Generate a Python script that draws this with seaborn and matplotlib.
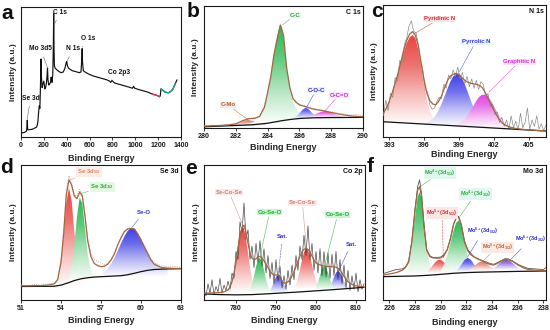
import numpy as np
import matplotlib
matplotlib.use('Agg')
import matplotlib.pyplot as plt
import seaborn as sns
from matplotlib.colors import LinearSegmentedColormap, to_rgb

sns.set_theme(style='ticks')
plt.rcParams['font.family'] = ['Liberation Sans', 'DejaVu Sans']
plt.rcParams['font.weight'] = 'bold'
plt.rcParams['mathtext.fontset'] = 'custom'
plt.rcParams['mathtext.rm'] = 'Liberation Sans:bold'
plt.rcParams['mathtext.it'] = 'Liberation Sans:italic:bold'
plt.rcParams['mathtext.bf'] = 'Liberation Sans:bold'

# ---------------- panel a : survey ----------------
a_x = [0, 30, 48, 52, 55, 58, 62, 100, 135, 142,
       148, 155, 160, 165, 170, 175, 179, 185, 192, 200,
       208, 215, 222, 228, 232, 236, 243, 250, 258, 264,
       268, 272, 278, 283, 286, 289, 292, 298, 310, 330,
       350, 370, 385, 395, 400, 406, 415, 430, 450, 470,
       490, 510, 525, 532, 535, 538, 545, 560, 590, 630,
       670, 710, 750, 775, 785, 795, 820, 860, 900, 940,
       975, 985, 995, 1030, 1070, 1110, 1150, 1190, 1212, 1218,
       1225, 1240, 1260, 1290, 1310, 1330, 1350, 1365]
a_y = [3, 3.5, 4.5, 8, 13, 6, 5.5, 6, 7.5, 9,
       12, 20, 24, 22, 38, 60, 46, 38, 41, 43,
       37, 38, 41, 47, 53, 44, 40, 40.5, 42, 46,
       43, 42, 48, 70, 95, 68, 55, 53, 52, 50.5,
       49.5, 50, 53, 57, 58, 55, 53, 52, 51, 50.5,
       50, 49.5, 50, 60, 68, 58, 51, 50, 48.5, 47,
       46, 45, 44, 43, 42, 43.5, 41.5, 40.5, 39.5, 38.5,
       37.5, 39, 37.5, 36.5, 35.5, 34.5, 33, 32, 31, 31.5,
       37, 36, 34.5, 34, 35, 37, 41, 44]
a_ticks = [0, 200, 400, 600, 800, 1000, 1200, 1400]

# ---------------- panel b : C 1s ----------------
b_x = [280.0, 280.5, 281.0, 281.5, 282.0, 282.4, 282.8, 283.2, 283.5, 283.8,
       284.0, 284.2, 284.4, 284.6, 284.8, 285.0, 285.2, 285.4, 285.6, 285.8,
       286.0, 286.2, 286.4, 286.6, 286.8, 287.0, 287.3, 287.6, 287.9, 288.2,
       288.5, 288.8, 289.2, 289.6, 290.0]
b_env = [1.5, 1.8, 2.1, 2.5, 3.4, 5.8, 7.6, 7.9, 9.5, 17,
         29, 42, 60, 73, 84.4, 76, 49, 33, 24, 21,
         19, 18.2, 17.5, 16.5, 15.8, 15.2, 14.6, 13.8, 13.0, 12.2,
         11.4, 10.7, 10.0, 9.5, 9.2]
b_raw = [1.8, 2.3, 1.9, 2.8, 3.2, 6.0, 8.0, 8.3, 9.9, 17.5,
         29.5, 42.5, 60.5, 73.5, 85, 76.5, 49.5, 33.5, 24.5, 21.5,
         19.5, 18.5, 17.8, 16.8, 16.2, 15.6, 15.0, 14.2, 13.2, 13.0,
         11.2, 11.8, 10.4, 11.0, 9.8]
b_bg_x = [280, 283, 284, 285, 285.5, 286, 286.5, 287, 288, 290]
b_bg_y = [1.0, 2.6, 3.9, 6.2, 7.1, 7.8, 8.15, 8.4, 8.55, 8.7]
b_cmo_x = [281.6, 282.0, 282.4, 282.75, 283.1, 283.5, 283.9]
b_cmo_y = [2.0, 2.9, 5.1, 6.6, 5.7, 4.2, 3.8]
b_cc_x = [282.6, 283.0, 283.4, 283.7, 284.0, 284.2, 284.4, 284.6, 284.7, 284.8,
          284.9, 285.0, 285.2, 285.4, 285.6, 285.8, 286.0, 286.3, 286.6, 287.0,
          287.5, 288.0, 288.8]
b_cc_y = [3.2, 4.3, 6.5, 12.4, 27.9, 41.3, 59.8, 73.3, 80.0, 84.4,
          82.5, 74.2, 47.6, 32, 21.3, 15.6, 12.8, 10.5, 9.7, 9.4,
          9.2, 9.05, 8.9]
b_coc_x = [285.4, 285.7, 286.0, 286.2, 286.4, 286.6, 286.8, 287.1, 287.4]
b_coc_y = [7.2, 8.5, 11.9, 15.0, 16.6, 15.2, 12.3, 9.4, 8.5]
b_oco_x = [286.2, 286.6, 287.0, 287.3, 287.6, 287.9, 288.2, 288.5, 288.9, 289.3]
b_oco_y = [8.2, 9.2, 11.3, 13.0, 13.9, 13.1, 11.5, 10.0, 9.0, 8.8]
b_ticks = [280, 282, 284, 286, 288, 290]

# ---------------- panel c : N 1s ----------------
c_x = [392.5, 392.75, 393.0, 393.25, 393.5, 393.75, 394.0, 394.25, 394.5, 394.75,
       395.0, 395.25, 395.5, 395.75, 396.0, 396.25, 396.5, 396.75, 397.0, 397.25,
       397.5, 397.75, 398.0, 398.25, 398.5, 398.75, 399.0, 399.25, 399.5, 399.75,
       400.0, 400.25, 400.5, 400.75, 401.0, 401.25, 401.5, 401.75, 402.0, 402.25,
       402.5, 402.75, 403.0, 403.25, 403.5, 404.0, 404.5, 405.0, 405.5, 406.0,
       406.5]
c_env = [18, 22, 27, 33.5, 40.5, 48, 57, 66, 73, 78,
         79.8, 77, 69, 56, 43, 33, 27.5, 25, 24.3, 27,
         31, 37, 42.5, 46, 47.5, 48.2, 47.5, 45, 43, 41.5,
         40.7, 40.3, 39.9, 39.2, 37.5, 34, 29.5, 25, 20.5, 16.5,
         13, 10.5, 9, 8, 7.2, 6.3, 5.8, 5.4, 5.1, 4.8,
         4.6]
c_raw_x = [392.5, 392.7, 392.9, 393.1, 393.3, 393.5, 393.7, 393.9, 394.1, 394.3,
           394.5, 394.7, 394.9, 395.1, 395.3, 395.5, 395.7, 395.9, 396.1, 396.3,
           396.5, 396.7, 396.9, 397.1, 397.3, 397.5, 397.7, 397.9, 398.1, 398.3,
           398.5, 398.7, 398.9, 399.1, 399.3, 399.5, 399.7, 399.9, 400.1, 400.3,
           400.5, 400.7, 400.9, 401.1, 401.3, 401.5, 401.7, 401.9, 402.1, 402.3,
           402.5, 402.7, 402.9, 403.1, 403.3, 403.5, 403.7, 403.9, 404.1, 404.3,
           404.5, 404.7, 404.9, 405.1, 405.3, 405.5, 405.7, 405.9, 406.1, 406.3,
           406.5]
c_raw_y = [16, 28, 20, 33, 30, 45, 42, 58, 56, 70,
           75, 84, 88, 80, 79, 70, 57, 50, 36, 34,
           24, 21, 22, 27, 30, 29, 40, 37, 47, 44,
           51, 46, 53, 44, 49, 40, 46, 38, 44, 37,
           43, 36, 42, 40, 30, 33, 23, 25, 17, 19,
           11, 15, 8, 13, 6, 16, 7, 12, 5, 18,
           7, 11, 22, 6, 13, 8, 16, 6, 10, 5,
           9]
c_bg_x = [392.4, 406.6]
c_bg_y = [11.6, 4.5]
c_pyd_x = [392.5, 392.75, 393.0, 393.25, 393.5, 393.75, 394.0, 394.25, 394.5, 394.75,
           395.0, 395.25, 395.5, 395.75, 396.0, 396.25, 396.5, 396.75, 397.0, 397.25,
           397.5]
c_pyd_y = [18.6, 22.2, 26.9, 33.0, 40.2, 48.3, 56.5, 64.3, 70.9, 75.4,
           77.3, 74.8, 66.1, 53.4, 39.8, 28.3, 19.9, 14.7, 11.6, 10.1,
           9.4]
c_pyr_x = [396.0, 396.25, 396.5, 396.75, 397.0, 397.25, 397.5, 397.75, 398.0, 398.25,
           398.5, 398.75, 399.0, 399.25, 399.5, 399.75, 400.0, 400.25, 400.5, 400.75,
           401.0, 401.25, 401.5, 401.75]
c_pyr_y = [10.4, 11.0, 12.1, 13.9, 16.4, 20.2, 25.0, 30.6, 36.3, 41.7,
           45.8, 47.8, 47.4, 44.7, 40.1, 34.3, 28.2, 22.5, 17.7, 14.0,
           11.2, 9.4, 8.3, 7.6]
c_gra_x = [398.5, 398.75, 399.0, 399.25, 399.5, 399.75, 400.0, 400.25, 400.5, 400.75,
           401.0, 401.25, 401.5, 401.75, 402.0, 402.25, 402.5, 402.75, 403.0, 403.25,
           403.5, 404.0]
c_gra_y = [9.0, 9.5, 10.3, 11.6, 13.6, 16.4, 19.8, 23.7, 27.4, 30.4,
           32.0, 32.0, 30.5, 27.4, 23.6, 19.5, 15.7, 12.6, 10.1, 8.3,
           7.3, 6.1]
c_ticks = [393, 396, 399, 402, 405]

# ---------------- panel d : Se 3d ----------------
d_x = [51.0, 51.5, 52.0, 52.5, 53.0, 53.5, 53.75, 54.0, 54.2, 54.4,
       54.6, 54.8, 55.0, 55.2, 55.4, 55.6, 55.8, 56.0, 56.25, 56.5,
       56.75, 57.0, 57.25, 57.5, 57.75, 58.0, 58.25, 58.5, 58.75, 59.0,
       59.25, 59.5, 59.75, 60.0, 60.25, 60.5, 60.75, 61.0, 61.5, 62.0,
       62.5, 63.0]
d_env = [10.5, 10.5, 10.6, 10.7, 11, 12, 15, 28, 49, 78,
         89, 85, 77, 75, 80, 77, 62, 44, 32, 27,
         25.5, 24.7, 25, 26.5, 29.6, 34, 40.7, 46, 50.6, 52.5,
         53, 52.5, 49, 44.5, 39.5, 34.5, 29.6, 26.5, 24.2, 23.6,
         23.4, 23.3]
d_raw = [11.2, 10.8, 11.6, 11.0, 11.8, 12.6, 15.5, 29, 51, 82,
         92, 86, 78, 77, 82, 78, 63, 46, 34, 30,
         28.5, 27.5, 26, 27, 30, 34.5, 41, 46.5, 51, 53,
         53.5, 53, 49.5, 45, 40, 35, 30.5, 27.5, 25.5, 24.6,
         24.8, 24.2]
d_bg_x = [51, 53.5, 54.0, 54.5, 55.0, 55.5, 56.0, 56.5, 57.5, 58.5,
          59.0, 59.5, 60.0, 60.5, 61.0, 62.0, 63.0]
d_bg_y = [10, 10.2, 11, 12.6, 14.4, 15.7, 16.5, 17, 17.5, 18,
          18.7, 19.8, 21, 22, 22.6, 23, 23.2]
d_52_x = [53.5, 53.75, 54.0, 54.2, 54.4, 54.6, 54.8, 55.0, 55.2, 55.4, 55.7]
d_52_y = [10.7, 14.1, 27, 48.2, 71.9, 83, 73.3, 51, 31, 20.6, 16.7]
d_32_x = [54.4, 54.6, 54.8, 55.0, 55.2, 55.4, 55.6, 55.8, 56.0, 56.25, 56.5]
d_32_y = [13, 16.2, 24.6, 41.1, 62, 75.9, 71.5, 53.2, 34.3, 21.3, 17.7]
d_seo_x = [56.5, 57.0, 57.25, 57.5, 57.75, 58.0, 58.25, 58.5, 58.75, 59.0,
           59.25, 59.5, 59.75, 60.0, 60.25, 60.5, 60.75, 61.0, 61.5, 62.0]
d_seo_y = [17.4, 19.1, 20.7, 23.2, 26.6, 31, 36.3, 41.9, 47.1, 51.1,
           53.2, 53, 49.5, 45, 39.5, 34.5, 29.8, 26.6, 24.1, 23.3]
d_ticks = [51, 54, 57, 60, 63]

# ---------------- panel e : Co 2p ----------------
e_x = [772, 774, 776, 777, 778, 778.5, 779, 779.5, 780, 780.5,
       781, 781.5, 782, 782.5, 783, 783.5, 784, 784.5, 785, 785.5,
       786, 786.5, 787, 787.5, 788, 788.5, 789, 789.5, 790, 790.5,
       791, 791.5, 792, 792.5, 793, 793.5, 794, 794.5, 795, 795.5,
       796, 796.5, 797, 797.5, 798, 798.5, 799, 799.5, 800, 800.5,
       801, 801.5, 802, 802.5, 803, 803.5, 804, 804.5, 805, 805.5,
       806, 806.5, 807, 808, 809, 810, 811, 812]
e_env = [5, 5.2, 5.5, 6, 7.5, 9.5, 13.5, 20, 28, 38,
         47, 53.5, 55.5, 50, 42, 35, 31, 29.8, 30.5, 32,
         32.3, 31, 29, 26.5, 24, 21.5, 19.5, 18.5, 18.5, 18.5,
         17, 14, 12.5, 12.5, 13.5, 15, 18, 21, 25, 29,
         32.5, 35.5, 37.5, 38.3, 37.5, 35.8, 32.5, 29.5, 27.5, 26.5,
         26, 25.5, 25.2, 25, 24.8, 24.7, 24.7, 24.7, 24.3, 23.5,
         22.2, 20, 17.5, 13.5, 11.5, 10.5, 10, 9.9]
e_raw_x = [772.0, 772.5, 773.0, 773.5, 774.0, 774.5, 775.0, 775.5, 776.0, 776.5,
           777.0, 777.5, 778.0, 778.5, 779.0, 779.5, 780.0, 780.5, 781.0, 781.5,
           782.0, 782.5, 783.0, 783.5, 784.0, 784.5, 785.0, 785.5, 786.0, 786.5,
           787.0, 787.5, 788.0, 788.5, 789.0, 789.5, 790.0, 790.5, 791.0, 791.5,
           792.0, 792.5, 793.0, 793.5, 794.0, 794.5, 795.0, 795.5, 796.0, 796.5,
           797.0, 797.5, 798.0, 798.5, 799.0, 799.5, 800.0, 800.5, 801.0, 801.5,
           802.0, 802.5, 803.0, 803.5, 804.0, 804.5, 805.0, 805.5, 806.0, 806.5,
           807.0, 807.5, 808.0, 808.5, 809.0, 809.5, 810.0, 810.5, 811.0, 811.5,
           812.0]
e_raw_y = [8, 3, 12, 5, 15, 4, 10, 6, 16, 5,
           11, 7, 14, 8, 20, 16, 36, 30, 58, 50,
           72, 45, 52, 30, 40, 24, 42, 28, 44, 25,
           38, 20, 33, 16, 28, 12, 30, 14, 25, 9,
           18, 8, 22, 11, 26, 15, 33, 22, 40, 30,
           48, 33, 55, 30, 42, 22, 36, 20, 38, 18,
           36, 17, 35, 16, 34, 18, 36, 15, 30, 12,
           26, 9, 22, 7, 18, 8, 20, 6, 15, 8,
           12]
e_bg_x = [772, 776, 780, 784, 788, 792, 796, 800, 804, 808, 812]
e_bg_y = [4.5, 4.0, 3.8, 4.0, 4.6, 5.3, 6.0, 6.8, 7.6, 8.5, 9.4]
e_r1_x = [778.0, 778.5, 779.0, 779.5, 780.0, 780.5, 781.0, 781.5, 782.0, 782.5,
          783.0, 783.5, 784.0, 784.5, 785.0, 785.5]
e_r1_y = [5.8, 8.3, 13.0, 20.4, 30.3, 41.2, 50.3, 54.7, 52.9, 45.4,
          34.9, 24.2, 15.7, 10.1, 6.8, 5.1]
e_g1_x = [783.0, 783.5, 784.0, 784.5, 785.0, 785.5, 786.0, 786.5, 787.0, 787.5,
          788.0, 788.5, 789.0]
e_g1_y = [5.4, 7.5, 11.7, 17.8, 24.5, 29.7, 31.2, 28.2, 22.1, 15.6,
          10.4, 7.2, 5.8]
e_s1_x = [788.0, 788.5, 789.0, 789.5, 790.0, 790.5, 791.0, 791.5, 792.0, 792.5, 793.0]
e_s1_y = [5.5, 7.0, 9.7, 13.4, 17.0, 19.0, 18.2, 15.2, 11.5, 8.6, 6.8]
e_r2_x = [794.5, 795.0, 795.5, 796.0, 796.5, 797.0, 797.5, 798.0, 798.5, 799.0,
          799.5, 800.0, 800.5, 801.0]
e_r2_y = [8.5, 11.7, 16.3, 22.6, 29.6, 35.4, 38.2, 37.1, 32.5, 26.0,
          19.3, 14.2, 10.6, 8.7]
e_g2_x = [799.5, 800.0, 800.5, 801.0, 801.5, 802.0, 802.5, 803.0, 803.5, 804.0,
          804.5, 805.0]
e_g2_y = [7.7, 9.7, 13.2, 18.1, 22.9, 25.1, 24.0, 20.3, 15.4, 11.6,
          9.5, 8.4]
e_s2_x = [803.0, 803.5, 804.0, 804.5, 805.0, 805.5, 806.0, 806.5, 807.0, 807.5, 808.0]
e_s2_y = [8.4, 10.2, 12.9, 16.7, 20.1, 21.5, 20.3, 17.1, 13.6, 10.9, 9.5]
e_ticks = [780, 790, 800, 810]

# ---------------- panel f : Mo 3d ----------------
f_x = [225.5, 226.0, 226.5, 227.0, 227.25, 227.5, 227.75, 228.0, 228.2, 228.35,
       228.5, 228.7, 228.9, 229.15, 229.4, 229.7, 230.0, 230.25, 230.5, 230.75,
       231.0, 231.2, 231.4, 231.6, 231.85, 232.1, 232.35, 232.6, 232.9, 233.2,
       233.5, 233.8, 234.1, 234.4, 234.7, 235.0, 235.3, 235.6, 236.0, 236.4,
       236.8, 237.4, 238.0, 238.2]
f_env = [18.5, 19.3, 20.2, 22, 24, 28, 43, 66.7, 81.5, 83.9,
         77, 54.3, 37, 32.1, 31.2, 30.9, 31.2, 33, 37, 45,
         56, 60.5, 61.2, 55.5, 43, 36.5, 33.5, 31.8, 30.2, 29.3,
         27.6, 26.5, 25.9, 27, 28.8, 29.9, 29.8, 28.6, 26, 24,
         22.6, 22, 21.7, 21.6]
f_raw = [19.5, 21, 22.5, 23, 24.5, 29, 44, 68, 84, 89,
         79, 55, 37.5, 32.8, 31.5, 31.6, 31.8, 33.6, 37.4, 45.5,
         56.3, 61, 62, 56, 43.8, 37.5, 34.5, 32, 30.7, 29,
         28.4, 27.2, 26.4, 27.6, 29.2, 30.6, 30.4, 28.9, 26.5, 24.8,
         23.4, 23, 22.5, 24]
f_bg_x = [225.5, 227, 228, 229, 230, 231, 232, 233, 234, 236, 238.2]
f_bg_y = [17.3, 17.6, 17.8, 18.3, 19.0, 19.8, 20.3, 20.6, 20.8, 21.2, 21.5]
f_g1_x = [227.0, 227.25, 227.5, 227.75, 228.0, 228.2, 228.35, 228.5, 228.75, 229.0, 229.25, 229.5]
f_g1_y = [18.1, 19.7, 25.8, 40.1, 61.6, 76.1, 80.0, 75.3, 53.8, 32.5, 22.0, 18.8]
f_r1_x = [228.75, 229.0, 229.25, 229.5, 229.75, 230.0, 230.25, 230.5, 230.75, 231.0, 231.25]
f_r1_y = [19.7, 21.5, 24.2, 27.2, 29.5, 29.8, 28.1, 25.3, 22.6, 20.9, 20.0]
f_g2_x = [230.0, 230.25, 230.5, 230.75, 231.0, 231.2, 231.4, 231.6, 231.8, 232.0, 232.25, 232.5, 232.75]
f_g2_y = [21.6, 26.1, 32.8, 41.9, 51.4, 57.0, 59.0, 55.4, 46.5, 36.3, 27.0, 22.4, 20.9]
f_b1_x = [231.1, 231.35, 231.6, 231.85, 232.1, 232.35, 232.6, 232.85, 233.1]
f_b1_y = [21.1, 22.9, 26.1, 29.6, 31.2, 29.7, 26.3, 23.2, 21.5]
f_r2_x = [232.1, 232.4, 232.7, 232.95, 233.2, 233.45, 233.7, 234.0, 234.3]
f_r2_y = [21.7, 23.4, 25.9, 27.8, 28.6, 27.8, 26.0, 23.6, 21.9]
f_b2_x = [233.9, 234.2, 234.5, 234.8, 235.1, 235.4, 235.7, 236.0, 236.3]
f_b2_y = [22.2, 23.9, 26.5, 28.9, 30.0, 28.9, 26.5, 23.9, 22.2]
f_ticks = [226, 228, 230, 232, 234, 236, 238]

# ---------------- colours ----------------
RED = '#e63a36'
GREEN = '#1fb447'
BLUE = '#3434e4'
MAG = '#e03ae0'
CMO = '#d8705c'
ENV = '#a3673f'

W, H = 550, 330
fig = plt.figure(figsize=(5.5, 3.3), dpi=100)
fig.patch.set_facecolor('white')


def add_ax(l, r, t, b):
    return fig.add_axes([l / W, (H - b) / H, (r - l) / W, (b - t) / H])


def grad_fill(ax, xs, ys, color, z=1, alpha=0.95):
    xs = np.asarray(xs, float)
    ys = np.asarray(ys, float)
    poly = ax.fill_between(xs, 0, ys, facecolor='none', edgecolor='none')
    path = poly.get_paths()[0]
    c = np.array(to_rgb(color))
    cmap = LinearSegmentedColormap.from_list(
        'g', [(1, 1, 1), tuple(0.35 * c + 0.65), tuple(0.75 * c + 0.25), tuple(c)])
    grad = np.linspace(0, 1, 256).reshape(-1, 1)
    im = ax.imshow(grad, cmap=cmap, aspect='auto', origin='lower',
                   extent=[xs.min(), xs.max(), ys.min(), ys.max()],
                   zorder=z, alpha=alpha, interpolation='bilinear')
    im.set_clip_path(path, transform=ax.transData)


def line(ax, x, y, color, lw, z, ls='-'):
    sns.lineplot(x=np.asarray(x, float), y=np.asarray(y, float), ax=ax, color=color,
                 lw=lw, sort=False, estimator=None, zorder=z, linestyle=ls, legend=False)


def style(ax, xlim, ticks, ylab_x, xlab_y, xlabel='Binding Energy', title=None):
    ax.set_xlim(*xlim)
    ax.set_ylim(0, 100)
    ax.set_xticks(ticks)
    ax.set_xticklabels([str(t) for t in ticks], fontsize=5, fontweight='bold')
    ax.set_yticks([])
    ax.tick_params(axis='x', direction='out', length=2, width=0.6, pad=1.5, colors='#1a1a1a')
    for s in ax.spines.values():
        s.set_visible(True)
        s.set_linewidth(0.8)
        s.set_color('#1a1a1a')
    ax.set_facecolor('white')
    ax.grid(False)
    ax.set_xlabel(xlabel, fontsize=6.5, fontweight='bold')
    ax.set_ylabel('Intensity (a.u.)', fontsize=6, fontweight='bold')
    ax.xaxis.set_label_coords(0.5, xlab_y)
    ax.yaxis.set_label_coords(ylab_x, 0.5)
    if title:
        ax.text(0.985, 0.975, title, transform=ax.transAxes, ha='right', va='top',
                fontsize=5, fontweight='bold', color='#111')


def note(ax, text, xy, xyt, color, bg=None, ls='-', arrow='-', fs=4.3):
    bbox = dict(boxstyle='square,pad=0.12', fc=bg, ec='none') if bg else None
    ax.annotate(text, xy=xy, xytext=xyt, ha='center', va='center', fontsize=fs,
                fontweight='bold', color=color, bbox=bbox, zorder=8,
                arrowprops=dict(arrowstyle=arrow, color=color, lw=0.4, ls=ls,
                                shrinkA=1, shrinkB=0, alpha=0.8))


# ---- a ----
axa = add_ax(21, 181, 7, 137)
line(axa, a_x, a_y, '#111', 0.85, 3)
axa_red = [i for i, v in enumerate(a_x) if 1150 <= v <= 1215]
axa_teal = [i for i, v in enumerate(a_x) if 1225 <= v <= 1350]
line(axa, [a_x[i] for i in axa_red], [a_y[i] for i in axa_red], '#d6405c', 1.0, 4)
line(axa, [a_x[i] for i in axa_teal], [a_y[i] for i in axa_teal], '#1aa38c', 1.0, 4)
style(axa, (0, 1400), a_ticks, -0.027, -0.127)
for txt, xy, xyt in [('Se 3d', (55, 14), (84, 30)), ('Mo 3d5', (232, 53), (173, 68)),
                     ('C 1s', (288, 86), (343, 96)), ('N 1s', (402, 58), (453, 68)),
                     ('O 1s', (537, 69), (586, 76)), ('Co 2p3', (790, 43.5), (859, 50))]:
    axa.annotate(txt, xy=xy, xytext=xyt, ha='center', va='center', fontsize=4.8,
                 fontweight='bold', color='#111', zorder=8,
                 arrowprops=dict(arrowstyle='-', color='#666', lw=0.4, shrinkA=1, shrinkB=0))

# ---- b ----
axb = add_ax(204, 363, 6, 128)
grad_fill(axb, b_cmo_x, b_cmo_y, CMO)
grad_fill(axb, b_cc_x, b_cc_y, GREEN)
grad_fill(axb, b_coc_x, b_coc_y, BLUE, z=2)
grad_fill(axb, b_oco_x, b_oco_y, MAG, z=2)
line(axb, b_x, b_raw, '#b59595', 0.6, 3, ls=':')
line(axb, b_bg_x, b_bg_y, '#111', 0.9, 4)
line(axb, b_x, b_env, ENV, 0.9, 5)
style(axb, (280, 290), b_ticks, -0.031, -0.119, title='C 1s')
note(axb, 'C-C', (284.95, 84.5), (285.7, 92.6), '#3aa53a', '#e8f8e8')
note(axb, 'C-Mo', (282.8, 6.5), (281.5, 18.9), '#a9603a', '#fbe9e4')
note(axb, 'C-O-C', (286.45, 17), (287.05, 31), '#3030cc', '#eeeefc')
note(axb, 'O-C=O', (287.6, 14), (288.5, 27), '#c030c0', '#f9e6f8')

# ---- c ----
axc = add_ax(383, 546, 5, 137)
grad_fill(axc, c_pyd_x, c_pyd_y, RED)
grad_fill(axc, c_pyr_x, c_pyr_y, BLUE, z=2)
grad_fill(axc, c_gra_x, c_gra_y, MAG, z=2)
line(axc, c_raw_x, c_raw_y, '#8c8c8c', 0.5, 3)
line(axc, c_bg_x, c_bg_y, '#111', 0.9, 4)
line(axc, c_x, c_env, ENV, 0.9, 5)
style(axc, (392.46, 406.5), c_ticks, -0.031, -0.102, title='N 1s')
note(axc, 'Pyridinic N', (395.1, 78), (397.3, 89.4), '#c83232', '#fbe3ea')
note(axc, 'Pyrrolic N', (399.0, 49), (400.45, 72), '#3a3ad8', '#e4f6fb')
note(axc, 'Graphitic N', (401.6, 34), (404.2, 57), '#d030d0', '#f9e3f6')

# ---- d ----
axd = add_ax(21, 181, 165, 300)
grad_fill(axd, d_52_x, d_52_y, RED)
grad_fill(axd, d_32_x, d_32_y, GREEN, z=2)
grad_fill(axd, d_seo_x, d_seo_y, BLUE)
line(axd, d_x, d_raw, '#b89090', 0.6, 3, ls=':')
line(axd, d_bg_x, d_bg_y, '#111', 0.9, 4)
line(axd, d_x, d_env, ENV, 0.9, 5)
style(axd, (51, 63), d_ticks, -0.025, -0.122, title='Se 3d')
note(axd, 'Se 3d$_{5/2}$', (54.7, 89), (56.1, 94.8), '#d98b6a', '#fdece6')
note(axd, 'Se 3d$_{3/2}$', (55.55, 79), (57.1, 83.7), '#2fae3a', '#e4f8e4')
note(axd, 'Se-O', (59.35, 54), (60.2, 65), '#3030cc')

# ---- e ----
axe = add_ax(204, 365, 165, 300)
grad_fill(axe, e_r1_x, e_r1_y, RED)
grad_fill(axe, e_g1_x, e_g1_y, GREEN, z=2)
grad_fill(axe, e_s1_x, e_s1_y, BLUE)
grad_fill(axe, e_r2_x, e_r2_y, RED)
grad_fill(axe, e_g2_x, e_g2_y, GREEN, z=2)
grad_fill(axe, e_s2_x, e_s2_y, BLUE)
line(axe, e_raw_x, e_raw_y, '#3a3a3a', 0.45, 3)
line(axe, e_bg_x, e_bg_y, '#111', 0.9, 4)
line(axe, e_x, e_env, ENV, 0.9, 5)
style(axe, (772, 812.25), e_ticks, -0.027, -0.122, title='Co 2p')
note(axe, 'Se-Co-Se', (781.6, 56), (778.3, 79.8), '#c8826e', '#fde8ec')
note(axe, 'Co-Se-O', (786.0, 32), (788.4, 65), '#22a83a', '#c9f5cf')
note(axe, 'Sat.', (790.6, 20), (791.6, 46.7), '#3030d0', ls='--')
note(axe, 'Se-Co-Se', (797.6, 38.5), (796.6, 72), '#c8826e', '#fde8ec')
note(axe, 'Co-Se-O', (802.2, 26), (805.4, 63), '#22a83a', '#c9f5cf')
note(axe, 'Sat.', (805.6, 21), (808.75, 41), '#3030d0')

# ---- f ----
axf = add_ax(383, 546, 165, 300)
grad_fill(axf, f_g1_x, f_g1_y, GREEN)
grad_fill(axf, f_r1_x, f_r1_y, RED)
grad_fill(axf, f_g2_x, f_g2_y, GREEN)
grad_fill(axf, f_b1_x, f_b1_y, BLUE, z=2)
grad_fill(axf, f_r2_x, f_r2_y, CMO, z=2)
grad_fill(axf, f_b2_x, f_b2_y, '#6a3ae0', z=2)
line(axf, f_x, f_raw, '#555555', 0.6, 3)
line(axf, f_bg_x, f_bg_y, '#111', 0.9, 4)
line(axf, f_x, f_env, ENV, 0.9, 5)
style(axf, (225.5, 238.2), f_ticks, -0.025, -0.13, xlabel='Binding energy', title='Mo 3d')
note(axf, 'Mo$^{4+}$(3d$_{5/2}$)', (228.4, 84), (229.95, 94), '#2fae3a', '#e0f7ee', fs=4)
note(axf, 'Mo$^{4+}$(3d$_{3/2}$)', (231.5, 62), (232.7, 78.5), '#2fae3a', '#e0f7ee', fs=4)
note(axf, 'Mo$^{5+}$(3d$_{5/2}$)', (230.2, 31), (230.1, 64.5), '#d03030', '#fbe6e6',
     ls='--', arrow='->', fs=4)
note(axf, 'Mo$^{6+}$(3d$_{5/2}$)', (232.1, 32), (233.3, 51), '#3030d0', fs=4)
note(axf, 'Mo$^{5+}$(3d$_{3/2}$)', (233.3, 29), (234.4, 39), '#b06a3a', '#fbe9e4', fs=4)
note(axf, 'Mo$^{6+}$(3d$_{3/2}$)', (235.5, 30.5), (237.0, 45), '#3030d0', fs=4)

# ---- panel letters ----
for ch, px, py in [('a', 1, 19), ('b', 187, 17), ('c', 371, 17),
                   ('d', 0, 173), ('e', 185, 174), ('f', 367, 172)]:
    fig.text(px / W, 1 - py / H, ch, fontsize=15, fontweight='bold', va='baseline',
             ha='left', color='#111')

fig.savefig('out.png', dpi=100, facecolor='white')
